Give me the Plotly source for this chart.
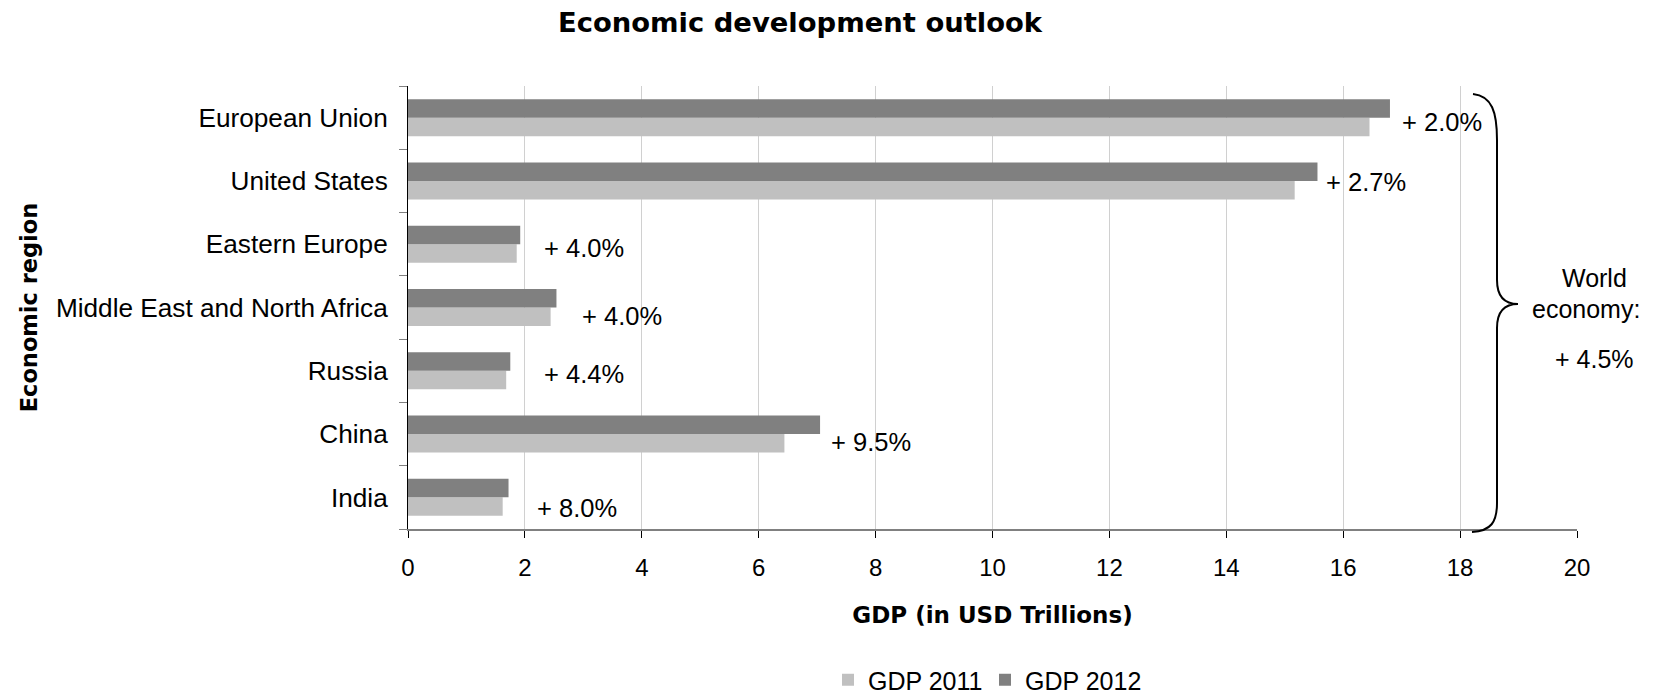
import plotly.graph_objects as go

# ---- data ----
regions = [
    "European Union",
    "United States",
    "Eastern Europe",
    "Middle East and North Africa",
    "Russia",
    "China",
    "India",
]
gdp_2011 = [16.45, 15.17, 1.86, 2.44, 1.68, 6.44, 1.62]
gdp_2012 = [16.80, 15.56, 1.92, 2.54, 1.75, 7.05, 1.72]
growth_labels = ["+ 2.0%", "+ 2.7%", "+ 4.0%", "+ 4.0%", "+ 4.4%", "+ 9.5%", "+ 8.0%"]
world_lines = ["World", "economy:", "+ 4.5%"]
x_ticks = [0, 2, 4, 6, 8, 10, 12, 14, 16, 18, 20]

# ---- label placement (pixel nudges from the end of the 2012 bar) ----
label_dx = [10, 7, 22, 24, 32, 9, 26]
label_dy = [-4, -1, -4, -8, -3, -8, -11]

# ---- page geometry ----
W, H = 1657, 696
ML, MR, MT, MB = 408, 80, 86, 167
PW, PH = W - ML - MR, H - MT - MB
X_MAX = 20

REG_FONT = "Liberation Sans, Arial, sans-serif"
BOLD_FONT = "DejaVu Sans, Verdana, sans-serif"


def px_x(px):
    """Horizontal page pixel -> x data value."""
    return (px - ML) / PW * X_MAX


def px_paper(px):
    """Horizontal page pixel -> paper fraction."""
    return (px - ML) / PW


def py_paper(py):
    """Vertical page pixel -> paper fraction."""
    return (MT + PH - py) / PH


fig = go.Figure()
fig.add_trace(go.Bar(
    name="GDP 2011", y=regions, x=gdp_2011, orientation="h",
    marker=dict(color="#c0c0c0", line=dict(width=0)),
))
fig.add_trace(go.Bar(
    name="GDP 2012", y=regions, x=gdp_2012, orientation="h",
    marker=dict(color="#808080", line=dict(width=0)),
))

# growth labels next to each pair of bars
for reg, v, txt, dx, dy in zip(regions, gdp_2012, growth_labels, label_dx, label_dy):
    fig.add_annotation(
        x=v, y=reg, xref="x", yref="y", text=txt, showarrow=False,
        xanchor="left", yanchor="middle", xshift=dx, yshift=dy,
        font=dict(family=REG_FONT, size=25.5, color="black"),
    )

# curly brace spanning all regions
pts = [
    (1473, 94), (1492, 96), (1497, 112), (1497, 140),
    (1497, 280),
    (1497, 297), (1505, 304), (1518, 304),
    (1505, 304), (1497, 311), (1497, 328),
    (1497, 503),
    (1497, 522), (1491, 531), (1472, 532),
]
c = [(px_x(a), py_paper(b)) for a, b in pts]
path = (
    f"M {c[0][0]},{c[0][1]} C {c[1][0]},{c[1][1]} {c[2][0]},{c[2][1]} {c[3][0]},{c[3][1]} "
    f"L {c[4][0]},{c[4][1]} C {c[5][0]},{c[5][1]} {c[6][0]},{c[6][1]} {c[7][0]},{c[7][1]} "
    f"C {c[8][0]},{c[8][1]} {c[9][0]},{c[9][1]} {c[10][0]},{c[10][1]} "
    f"L {c[11][0]},{c[11][1]} C {c[12][0]},{c[12][1]} {c[13][0]},{c[13][1]} {c[14][0]},{c[14][1]}"
)
fig.add_shape(type="path", path=path, xref="x", yref="paper",
              line=dict(color="black", width=2))

# text beside the brace, one line at a time
for txt, cx, cy in zip(world_lines, [1594, 1586, 1594], [278, 309, 359]):
    fig.add_annotation(
        x=px_paper(cx), y=py_paper(cy), xref="paper", yref="paper", text=txt,
        showarrow=False, xanchor="center", yanchor="middle",
        font=dict(family=REG_FONT, size=25, color="black"),
    )

fig.update_layout(
    width=W, height=H,
    margin=dict(l=ML, r=MR, t=MT, b=MB, autoexpand=False),
    paper_bgcolor="white", plot_bgcolor="white",
    barmode="group", bargap=0.415, bargroupgap=0,
    title=dict(
        text="<b>Economic development outlook</b>",
        x=800 / W, xanchor="center", xref="container",
        y=1 - 22 / H, yanchor="middle", yref="container",
        font=dict(family=BOLD_FONT, size=27.4, color="black"),
    ),
    legend=dict(
        orientation="h", x=px_paper(985), xanchor="center",
        y=py_paper(680), yanchor="middle",
        font=dict(family=REG_FONT, size=25, color="black"),
        itemwidth=30, entrywidth=112, tracegroupgap=0,
    ),
    showlegend=True,
)

fig.update_xaxes(
    range=[0, X_MAX], tickvals=x_ticks, ticktext=[str(t) for t in x_ticks],
    showgrid=True, gridcolor="#d0d0d0", gridwidth=1, zeroline=False,
    showline=True, linecolor="#808080", linewidth=2,
    ticks="outside", ticklen=7, tickwidth=1, tickcolor="black",
    tickfont=dict(family=REG_FONT, size=24, color="black"),
    ticklabelstandoff=9,
    title=dict(text="<b>GDP (in USD Trillions)</b>", standoff=27,
               font=dict(family=BOLD_FONT, size=23, color="black")),
)
fig.update_yaxes(
    type="category", categoryorder="array", categoryarray=regions[::-1],
    range=[-0.5, len(regions) - 0.5],
    showgrid=False, zeroline=False,
    showline=True, linecolor="black", linewidth=1,
    ticks="outside", tickson="boundaries", ticklen=8, tickwidth=1, tickcolor="#808080",
    tickfont=dict(family=REG_FONT, size=26.2, color="black"),
    ticklabelstandoff=14,
    title=dict(text="<b>Economic region</b>", standoff=12,
               font=dict(family=BOLD_FONT, size=22.5, color="black")),
)

fig.write_html("out.html")
